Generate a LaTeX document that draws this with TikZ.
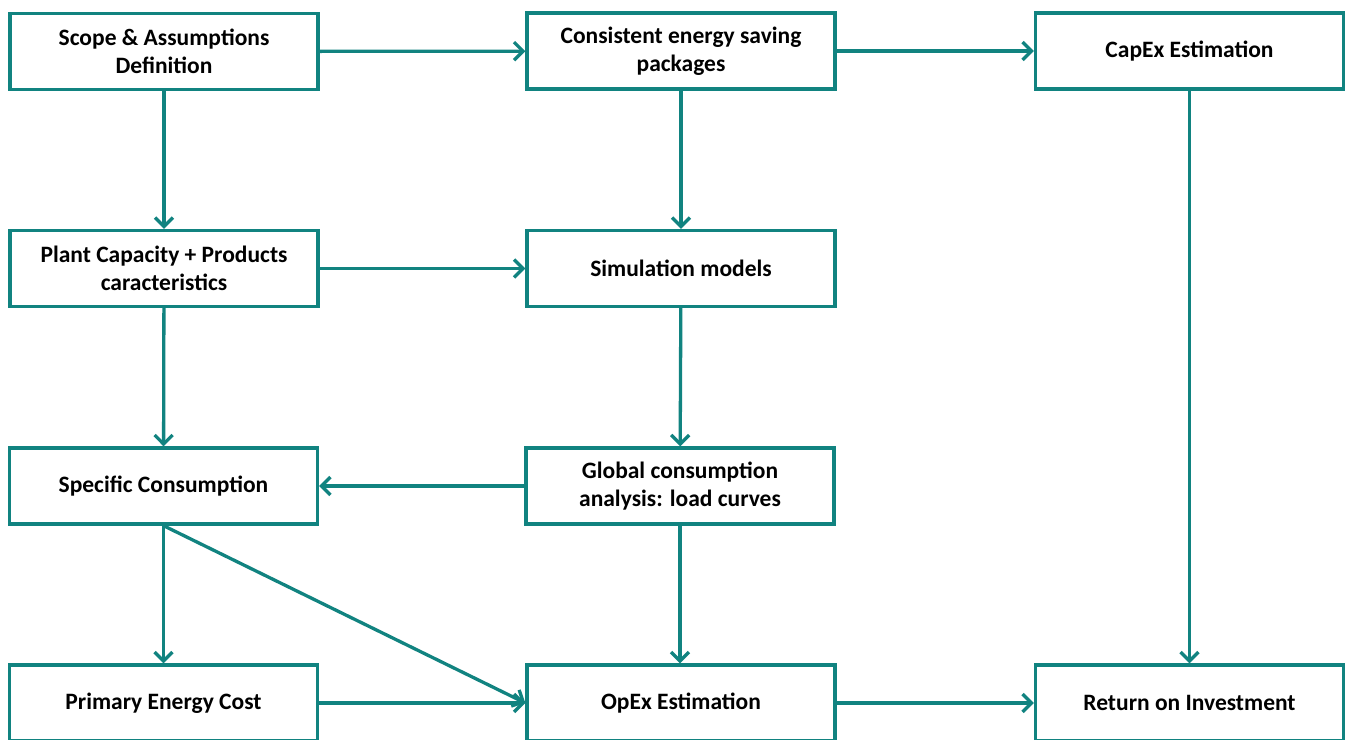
\documentclass[tikz,border=0pt]{standalone}
\usepackage{fontspec}
\setmainfont{Carlito}
\usetikzlibrary{arrows.meta}
\definecolor{teal1}{RGB}{17,131,128}
\begin{document}
\begin{tikzpicture}[x=1pt,y=-1pt,
  box/.style={draw=teal1,line width=3.3pt,fill=white,minimum width=308pt,minimum height=76pt,
    align=center,inner sep=2pt,font=\fontsize{23.5}{28}\selectfont\bfseries,text=black},
  conn/.style={draw=teal1,line width=3.3pt,-{Straight Barb[length=9pt,width=18pt,line width=3.3pt]}}]
\useasboundingbox[fill=white] (0,0) rectangle (1346,739);
\node[box] (scope) at (164,51.5) {Scope \& Assumptions\\Definition};
\node[box] (cons) at (681,51) {Consistent energy saving\\packages};
\node[box] (capex) at (1189.5,51) {CapEx Estimation};
\node[box] (plant) at (164,268.5) {Plant Capacity + Products\\caracteristics};
\node[box] (sim) at (681,268.5) {Simulation models};
\node[box] (spec) at (163.5,486) {Specific Consumption};
\node[box] (glob) at (680,486) {Global consumption\\analysis: load curves};
\node[box] (prim) at (163.5,703) {Primary Energy Cost};
\node[box] (opex) at (681,703) {OpEx Estimation};
\node[box] (roi) at (1189.5,703) {Return on Investment};
\draw[conn] (scope) -- (cons);
\draw[conn] (cons) -- (capex);
\draw[conn] (scope) -- (plant);
\draw[conn] (cons) -- (sim);
\draw[conn] (plant) -- (sim);
\draw[conn] (plant) -- (spec);
\draw[conn] (sim) -- (glob);
\draw[conn] (glob) -- (spec);
\draw[conn] (spec) -- (prim);
\draw[conn] (spec.south) -- (opex.west);
\draw[conn] (prim) -- (opex);
\draw[conn] (glob.south) -- (opex.north -| glob.south);
\draw[conn] (opex) -- (roi);
\draw[conn] (capex) -- (roi);
\end{tikzpicture}
\end{document}
